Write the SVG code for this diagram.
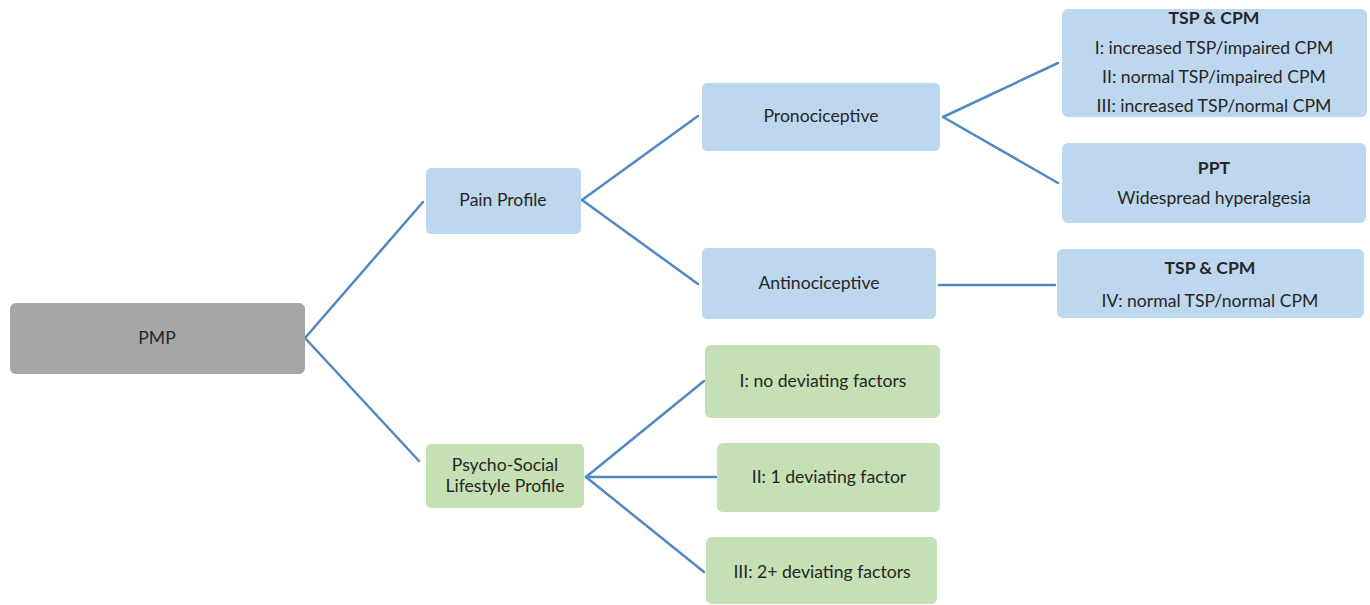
<svg xmlns="http://www.w3.org/2000/svg" width="1370" height="605" viewBox="0 0 1370 605">
<style>
text{font-family:Lato,"Open Sans","Liberation Sans",sans-serif;font-size:17.6px;fill:#262626;text-anchor:middle}
.b{font-weight:bold}
.grey{fill:#a6a6a6}
.blue{fill:#bdd7ee}
.green{fill:#c5e0b4}
.c line{stroke:#4f88c6;stroke-width:2.5;stroke-linecap:round}
</style>
<rect width="1370" height="605" fill="#ffffff"/>
<g class="c" id="connectors">
<line x1="305" y1="338" x2="423" y2="202"/>
<line x1="305" y1="338" x2="419" y2="461"/>
<line x1="582" y1="200" x2="698" y2="116"/>
<line x1="582" y1="200" x2="698" y2="284"/>
<line x1="943" y1="117" x2="1058" y2="63"/>
<line x1="943" y1="117" x2="1058" y2="183"/>
<line x1="939" y1="285" x2="1055" y2="285"/>
<line x1="586" y1="477" x2="704" y2="381"/>
<line x1="586" y1="477" x2="716" y2="477"/>
<line x1="586" y1="477" x2="704" y2="572"/>
</g>
<g id="pmp"><rect class="grey" x="10" y="303" width="295" height="71" rx="6"/><text x="157" y="344">PMP</text></g>
<g id="pain"><rect class="blue" x="426" y="168" width="155" height="66" rx="5"/><text x="503" y="206">Pain Profile</text></g>
<g id="pro"><rect class="blue" x="702" y="83" width="238" height="68" rx="5"/><text x="821" y="122">Pronociceptive</text></g>
<g id="anti"><rect class="blue" x="702" y="248" width="234" height="71" rx="5"/><text x="819" y="289">Antinociceptive</text></g>
<g id="tsp1"><rect class="blue" x="1062" y="9" width="305" height="108" rx="6"/>
<text class="b" x="1214" y="24">TSP &amp; CPM</text>
<text x="1214" y="54">I: increased TSP/impaired CPM</text>
<text x="1214" y="83">II: normal TSP/impaired CPM</text>
<text x="1214" y="112">III: increased TSP/normal CPM</text></g>
<g id="ppt"><rect class="blue" x="1062" y="143" width="304" height="80" rx="6"/>
<text class="b" x="1214" y="174">PPT</text>
<text x="1214" y="204">Widespread hyperalgesia</text></g>
<g id="tsp2"><rect class="blue" x="1057" y="249" width="307" height="69" rx="6"/>
<text class="b" x="1210" y="274">TSP &amp; CPM</text>
<text x="1210" y="307">IV: normal TSP/normal CPM</text></g>
<g id="psy"><rect class="green" x="426" y="444" width="158" height="64" rx="5"/>
<text x="505" y="471">Psycho-Social</text>
<text x="505" y="492">Lifestyle Profile</text></g>
<g id="g1"><rect class="green" x="705" y="345" width="235" height="73" rx="6"/><text x="823" y="387">I: no deviating factors</text></g>
<g id="g2"><rect class="green" x="717" y="443" width="223" height="69" rx="6"/><text x="829" y="483">II: 1 deviating factor</text></g>
<g id="g3"><rect class="green" x="706" y="537" width="231" height="67" rx="6"/><text x="822" y="578">III: 2+ deviating factors</text></g>
</svg>
